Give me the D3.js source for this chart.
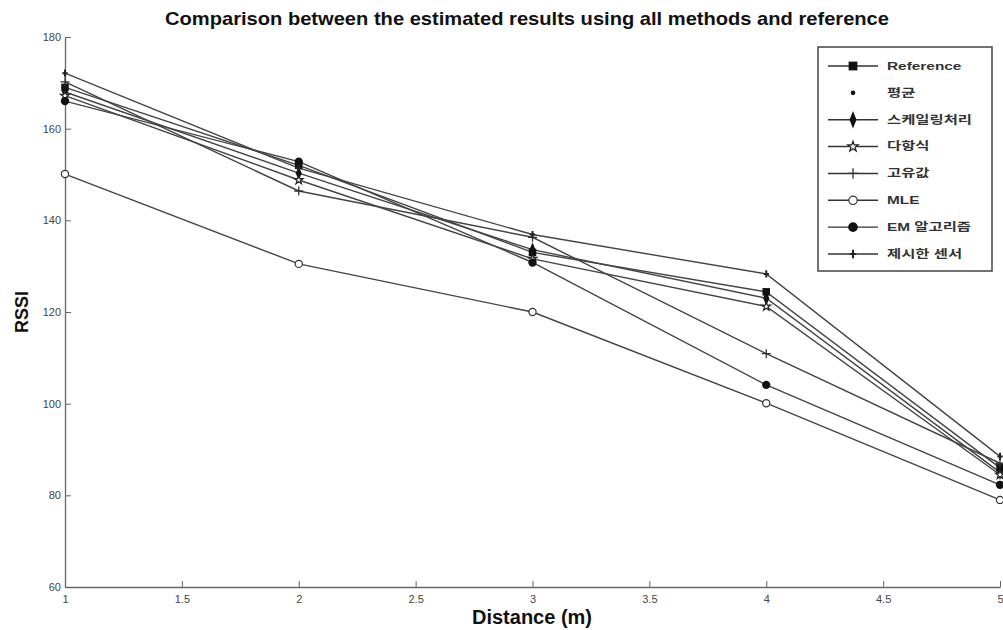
<!DOCTYPE html>
<html>
<head>
<meta charset="utf-8">
<script src="https://cdn.jsdelivr.net/npm/d3@7/dist/d3.min.js"></script>
<style>
  html, body { margin: 0; padding: 0; background: #ffffff; }
  svg { display: block; }
</style>
</head>
<body>
<svg id="chart" width="1003" height="630"></svg>
<script>
// Distances (m) along the x axis
const distances = [1, 2, 3, 4, 5];

// RSSI estimates per method
const reference   = [169.0, 152.0, 133.0, 124.4, 86.0];
const average     = [168.5, 151.6, 132.4, 123.0, 85.5];
const scaling     = [168.0, 150.3, 133.6, 123.0, 85.0];
const polynomial  = [167.2, 148.8, 131.6, 121.2, 84.5];
const eigenvalue  = [170.2, 146.4, 136.3, 110.9, 87.0];
const mle         = [150.1, 130.5, 120.0, 100.1, 79.0];
const emAlgorithm = [166.0, 152.8, 130.8, 104.1, 82.3];
const proposed    = [172.1, 151.4, 136.9, 128.3, 88.5];

const seriesNames = ["Reference", "평균", "스케일링처리", "다항식", "고유값", "MLE", "EM 알고리즘", "제시한 센서"];
const seriesValues = [reference, average, scaling, polynomial, eigenvalue, mle, emAlgorithm, proposed];

const xTicks = [1, 1.5, 2, 2.5, 3, 3.5, 4, 4.5, 5];
const yTicks = [60, 80, 100, 120, 140, 160, 180];

const titleText = "Comparison between the estimated results using all methods and reference";
const xLabel = "Distance (m)";
const yLabel = "RSSI";

// marker style for each series (same order as seriesNames)
const markerKinds = ["square", "dot", "diamond", "star", "plus", "circle", "filled", "smallplus"];
const showLine = [true, false, true, true, true, true, true, true];

const svg = d3.select("#chart");
const plot = { left: 65, right: 1000, top: 37, bottom: 587 };

const x = d3.scaleLinear().domain([1, 5]).range([plot.left, plot.right]);
const y = d3.scaleLinear().domain([60, 180]).range([plot.bottom, plot.top]);

const font = "'Liberation Sans', Arial, sans-serif";

// plot area
svg.append("rect")
  .attr("x", plot.left).attr("y", plot.top)
  .attr("width", plot.right - plot.left).attr("height", plot.bottom - plot.top)
  .attr("fill", "#fff");

// axes with inward ticks
const xAxis = d3.axisBottom(x).tickValues(xTicks).tickSizeInner(-6).tickSizeOuter(0)
  .tickFormat(d => d3.format("")(d));
const yAxis = d3.axisLeft(y).tickValues(yTicks).tickSizeInner(-6).tickSizeOuter(0);

const gx = svg.append("g").attr("transform", `translate(0,${plot.bottom})`).call(xAxis);
const gy = svg.append("g").attr("transform", `translate(${plot.left},0)`).call(yAxis);

[gx, gy].forEach(g => {
  g.select(".domain").attr("stroke", "#666").attr("stroke-width", 1.3);
  g.selectAll(".tick line").attr("stroke", "#666").attr("stroke-width", 1);
  g.selectAll(".tick text")
    .attr("font-family", "'Liberation Sans Narrow', 'Liberation Sans', Arial, sans-serif")
    .attr("font-size", 11).attr("fill", "#444");
});
gx.selectAll(".tick text").attr("y", 8).attr("dy", "0.71em");
gy.selectAll(".tick text").attr("x", -4);

// lines
const lineGen = d3.line().x((d, i) => x(distances[i])).y(d => y(d));
seriesValues.forEach((vals, s) => {
  if (!showLine[s]) return;
  svg.append("path")
    .datum(vals)
    .attr("d", lineGen)
    .attr("fill", "none")
    .attr("stroke", "#444")
    .attr("stroke-width", 1.4);
});

// marker drawing
function drawMarker(g, kind, cx, cy, scale) {
  const k = scale || 1;
  const sym = (type, size) => d3.symbol().type(type).size(size * k * k)();
  switch (kind) {
    case "square":
      g.append("path").attr("d", sym(d3.symbolSquare, 70))
        .attr("transform", `translate(${cx},${cy})`).attr("fill", "#111");
      break;
    case "dot":
      g.append("circle").attr("cx", cx).attr("cy", cy).attr("r", 2.2 * k).attr("fill", "#111");
      break;
    case "diamond":
      g.append("path").attr("d", sym(d3.symbolDiamond, 60))
        .attr("transform", `translate(${cx},${cy}) scale(0.8,1.15)`).attr("fill", "#111");
      break;
    case "star":
      g.append("path").attr("d", sym(d3.symbolStar, 30))
        .attr("transform", `translate(${cx},${cy})`).attr("fill", "#fff")
        .attr("stroke", "#222").attr("stroke-width", 1.2);
      break;
    case "plus":
      g.append("path")
        .attr("d", `M${cx - 5 * k},${cy}H${cx + 5 * k}M${cx},${cy - 5 * k}V${cy + 5 * k}`)
        .attr("stroke", "#333").attr("stroke-width", 1.3);
      break;
    case "circle":
      g.append("circle").attr("cx", cx).attr("cy", cy).attr("r", 4 * k)
        .attr("fill", "#fff").attr("stroke", "#333").attr("stroke-width", 1.2);
      break;
    case "filled":
      g.append("circle").attr("cx", cx).attr("cy", cy).attr("r", 4.6 * k).attr("fill", "#111");
      break;
    case "smallplus":
      g.append("path")
        .attr("d", `M${cx - 3 * k},${cy}H${cx + 3 * k}M${cx},${cy - 4 * k}V${cy + 4 * k}`)
        .attr("stroke", "#222").attr("stroke-width", 2);
      break;
  }
}

// point markers
const markers = svg.append("g");
seriesValues.forEach((vals, s) => {
  vals.forEach((v, i) => drawMarker(markers, markerKinds[s], x(distances[i]), y(v), 0.9));
});

// title and axis labels
svg.append("text")
  .attr("x", 527).attr("y", 25).attr("text-anchor", "middle")
  .attr("font-family", font).attr("font-weight", "bold").attr("font-size", 19)
  .attr("textLength", 724).attr("lengthAdjust", "spacingAndGlyphs")
  .attr("fill", "#111").text(titleText);

svg.append("text")
  .attr("x", 532).attr("y", 624).attr("text-anchor", "middle")
  .attr("font-family", font).attr("font-weight", "bold").attr("font-size", 20)
  .attr("fill", "#111").text(xLabel);

svg.append("text")
  .attr("transform", `translate(28,${y(120)}) rotate(-90)`)
  .attr("text-anchor", "middle")
  .attr("font-family", font).attr("font-weight", "bold").attr("font-size", 18)
  .attr("fill", "#111").text(yLabel);

// legend
const legend = svg.append("g");
const lgX = 818, lgY = 47, lgW = 174, lgH = 224;
legend.append("rect")
  .attr("x", lgX).attr("y", lgY).attr("width", lgW).attr("height", lgH)
  .attr("fill", "#fff").attr("stroke", "#444").attr("stroke-width", 1.5);

const rowY = d3.scalePoint().domain(d3.range(seriesNames.length)).range([66, 254]);
seriesNames.forEach((name, s) => {
  const ly = rowY(s);
  if (showLine[s]) {
    legend.append("line")
      .attr("x1", 828).attr("x2", 878).attr("y1", ly).attr("y2", ly)
      .attr("stroke", "#333").attr("stroke-width", 1.4);
  }
  drawMarker(legend, markerKinds[s], 853, ly, 1.05);
  legend.append("text")
    .attr("transform", `translate(887,${ly}) scale(1.4,1)`)
    .attr("dy", "0.35em")
    .attr("font-family", "'Liberation Sans', 'Noto Sans CJK KR', sans-serif")
    .attr("font-size", 11).attr("font-weight", "bold").attr("fill", "#333")
    .text(name);
});
</script>
</body>
</html>
